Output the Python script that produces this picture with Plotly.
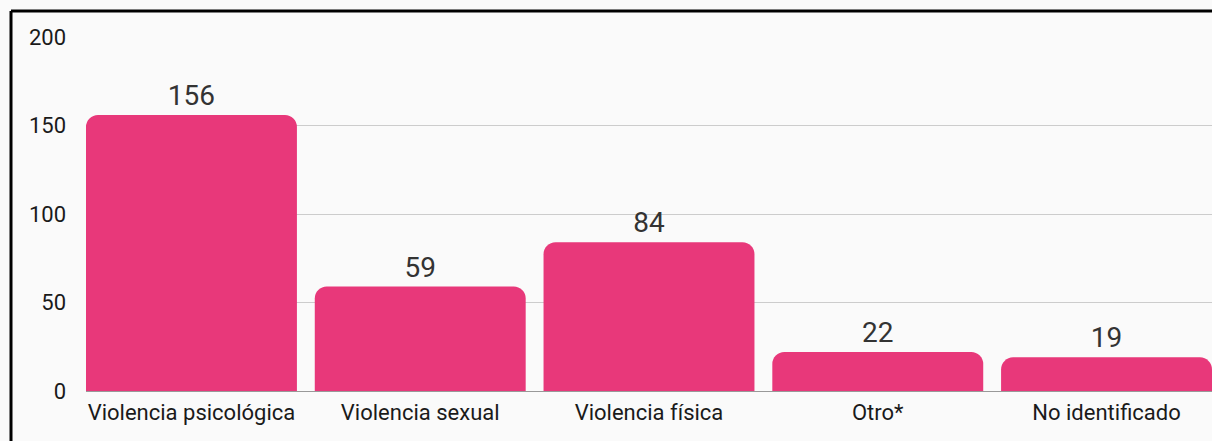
import plotly.graph_objects as go

categories = ["Violencia psicológica", "Violencia sexual", "Violencia física", "Otro*", "No identificado"]
values = [156, 59, 84, 22, 19]
y_ticks = [0, 50, 100, 150, 200]

W, H = 1212, 441
L, R, T, B = 86, 0, 37, 50
pw, ph = W - L - R, H - T - B

x = list(range(len(categories)))
half = 0.461

fig = go.Figure(go.Bar(
    x=x, y=values,
    marker=dict(color="#E8387A", cornerradius=12, line=dict(width=0)),
    text=[str(v) for v in values], textposition="outside",
    textfont=dict(family="Roboto", size=28, color="#333333"),
    cliponaxis=False, width=2 * half,
))

fig.update_layout(
    width=W, height=H,
    margin=dict(l=L, r=R, t=T, b=B),
    paper_bgcolor="#FAFAFA", plot_bgcolor="#FAFAFA",
    font=dict(family="Roboto", size=22, color="#212121"),
    showlegend=False,
    xaxis=dict(range=[-half, len(categories) - 1 + half], tickvals=x, ticktext=categories,
               showgrid=False, zeroline=False, showline=False, ticks="",
               ticklabelstandoff=6,
               tickfont=dict(size=22, color="#1a1a1a")),
    yaxis=dict(range=[0, 200], tickvals=y_ticks, showgrid=True, gridcolor="#CCCCCC", gridwidth=1,
               zeroline=True, zerolinecolor="#999999", zerolinewidth=1,
               ticks="", ticklabelstandoff=19, tickfont=dict(size=22, color="#1a1a1a")),
    shapes=[
        dict(type="line", xref="paper", yref="paper",
             x0=(11 - L) / pw, x1=(W + 5 - L) / pw, y0=1 + (T - 11) / ph, y1=1 + (T - 11) / ph,
             line=dict(color="#000000", width=3)),
        dict(type="line", xref="paper", yref="paper",
             x0=(11 - L) / pw, x1=(11 - L) / pw, y0=1 + (T - 11) / ph, y1=-(B + 5) / ph,
             line=dict(color="#000000", width=3)),
    ],
)

fig.write_html(
    "out.html",
    config={"displayModeBar": False},
    post_script="document.body.style.margin='0';document.body.style.background='#FAFAFA';document.body.style.overflow='hidden';",
)
